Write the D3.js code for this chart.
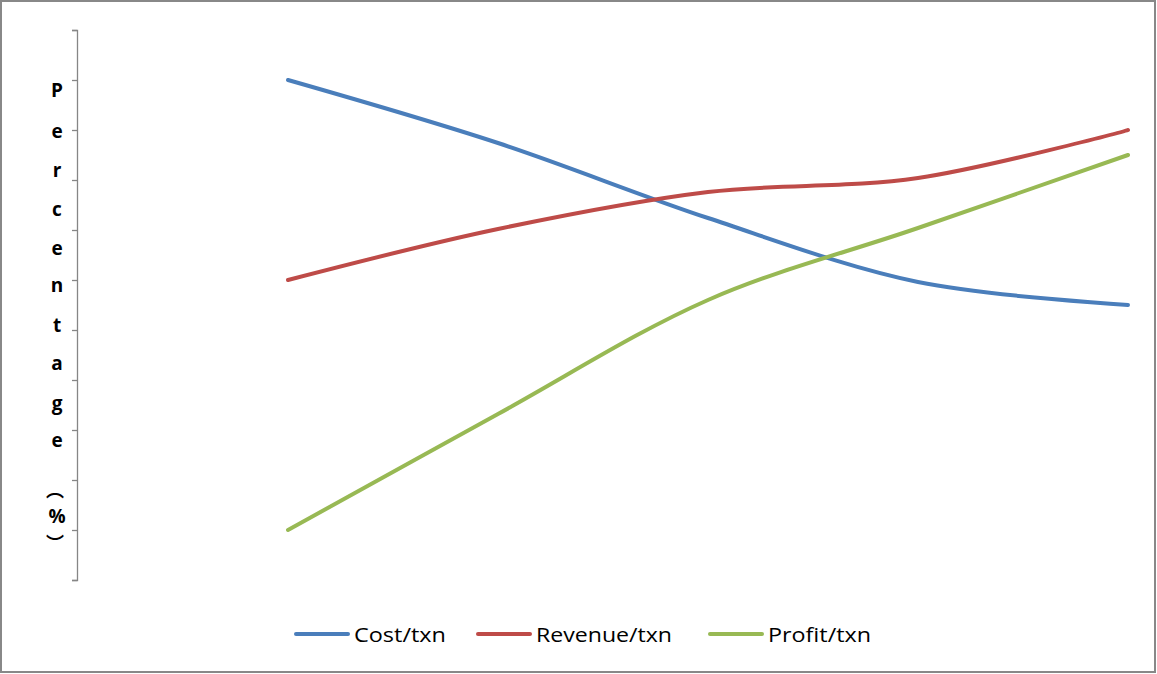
<!DOCTYPE html>
<html>
<head>
<meta charset="utf-8">
<script src="https://cdn.jsdelivr.net/npm/d3@7"></script>
<style>
  html, body { margin: 0; padding: 0; background: #fff; }
  svg { display: block; }
</style>
</head>
<body>
<svg id="chart" width="1157" height="674"></svg>
<script>
// ---- data ----
const categories = ["P1", "P2", "P3", "P4", "P5"];
const costValues = [100, 87.4, 72.4, 59.6, 55];
const revenueValues = [60, 70.2, 77.6, 80.4, 90];
const profitValues = [10, 33.2, 56, 70.4, 85];
const seriesNames = ["Cost/txn", "Revenue/txn", "Profit/txn"];
const yTickValues = [0, 10, 20, 30, 40, 50, 60, 70, 80, 90, 100, 110];
const yLabelChars = ["P", "e", "r", "c", "e", "n", "t", "a", "g", "e", "\uFE35", "%", "\uFE36"];

const colors = ["#4A7EBB", "#BE4B48", "#98B954"];
const series = [costValues, revenueValues, profitValues];

const svg = d3.select("#chart");

// outer border
svg.append("rect")
  .attr("x", 1).attr("y", 1).attr("width", 1154).attr("height", 671)
  .attr("fill", "#fff").attr("stroke", "#888").attr("stroke-width", 2);

const x = d3.scalePoint().domain(categories).range([288, 1128]);
const y = d3.scaleLinear().domain([0, 110]).range([580, 30]);

// y axis
const yAxis = d3.axisLeft(y).tickValues(yTickValues).tickSize(5).tickFormat("");
const gy = svg.append("g").attr("transform", "translate(77,0)").call(yAxis);
gy.selectAll("path, line").attr("stroke", "#868686").attr("stroke-width", 1.3);
gy.select("path").attr("d", "M-5,30.5H0.5V580.5H-5").attr("fill", "none");

// y label stacked letters
const labelYs = [90, 131, 170, 209, 248, 285, 325, 363, 403, 440, 489, 516, 542];
yLabelChars.forEach((ch, i) => {
  const isParen = (ch === "\uFE35" || ch === "\uFE36");
  svg.append("text")
    .attr("x", isParen ? 55 : 57)
    .attr("y", labelYs[i])
    .attr("text-anchor", "middle")
    .attr("dominant-baseline", "central")
    .attr("font-family", isParen ? "'Noto Sans CJK SC', 'Noto Sans CJK JP', sans-serif" : "'Open Sans', 'DejaVu Sans', sans-serif")
    .attr("font-weight", "bold")
    .attr("font-size", isParen ? 18 : 19)
    .attr("fill", "#000")
    .text(ch);
});

// lines
const line = d3.line()
  .x((d, i) => x(categories[i]))
  .y(d => y(d))
  .curve(d3.curveCatmullRom.alpha(0.5));

series.forEach((vals, si) => {
  svg.append("path")
    .datum(vals)
    .attr("d", line)
    .attr("fill", "none")
    .attr("stroke", colors[si])
    .attr("stroke-width", 4)
    .attr("stroke-linecap", "round")
    .attr("stroke-linejoin", "round");
});

// legend
const legendX = [296, 478, 710];
const legendTextW = [92, 136, 103];
seriesNames.forEach((name, i) => {
  const g = svg.append("g").attr("transform", `translate(${legendX[i]},634)`);
  g.append("line").attr("x1", 0).attr("x2", 52).attr("y1", 0).attr("y2", 0)
    .attr("stroke", colors[i]).attr("stroke-width", 4).attr("stroke-linecap", "round");
  g.append("text").attr("x", 58).attr("y", 0)
    .attr("dominant-baseline", "central")
    .attr("font-family", "'Open Sans', 'DejaVu Sans', sans-serif")
    .attr("font-size", 20)
    .attr("textLength", legendTextW[i])
    .attr("lengthAdjust", "spacingAndGlyphs")
    .attr("fill", "#000")
    .text(name);
});
</script>
</body>
</html>
